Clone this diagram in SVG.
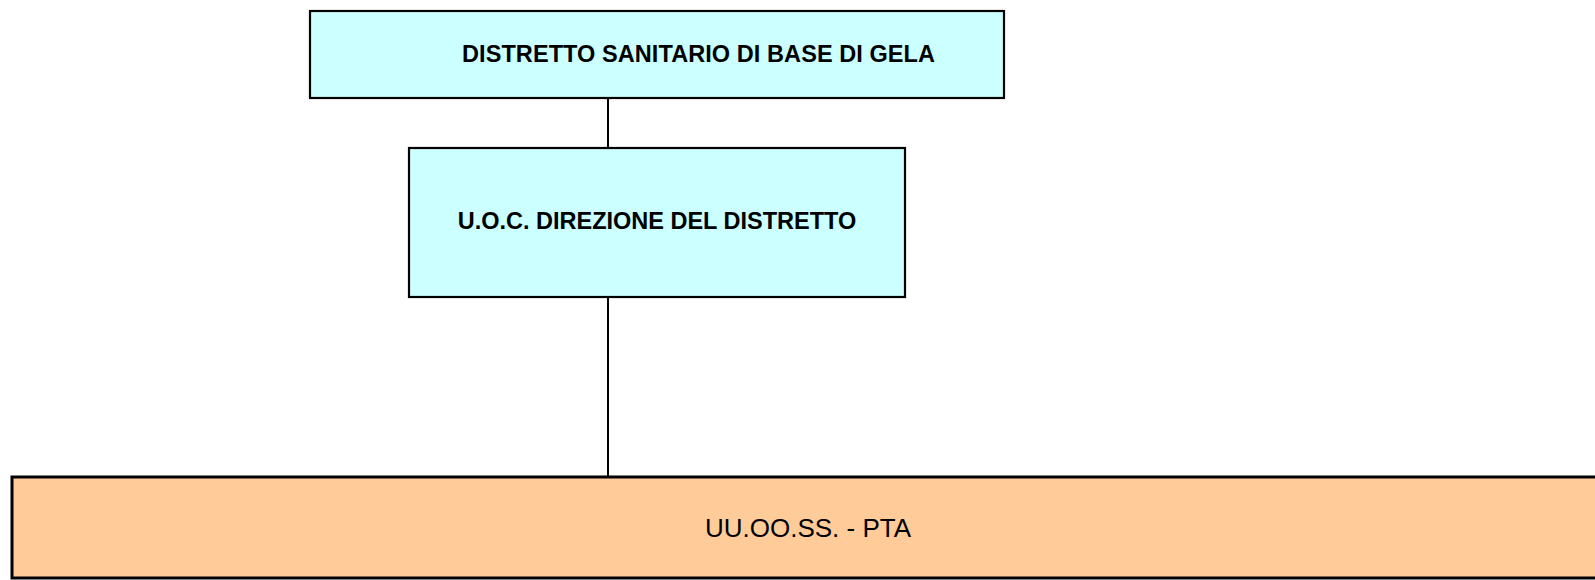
<svg xmlns="http://www.w3.org/2000/svg" width="1595" height="580" viewBox="0 0 1595 580">
<style>
.box{stroke:#000;stroke-width:2.2}
.cyan{fill:#CCFFFF}
.orange{fill:#FFCC99;stroke-width:3}
.t{font-family:"Liberation Sans",Arial,sans-serif;fill:#000}
.b{font-weight:bold;font-size:23.5px}
.r{font-size:26px}
.conn{stroke:#000;stroke-width:2;fill:none}
</style>
<rect width="1595" height="580" fill="#fff"/>
<g id="connectors">
<line class="conn" x1="608" y1="98" x2="608" y2="148"/>
<line class="conn" x1="608" y1="297" x2="608" y2="477"/>
</g>
<g id="node-distretto">
<rect class="box cyan" x="310" y="11" width="694" height="87"/>
<text class="t b" x="462" y="62" textLength="473">DISTRETTO SANITARIO DI BASE DI GELA</text>
</g>
<g id="node-uoc">
<rect class="box cyan" x="409" y="148" width="496" height="149"/>
<text class="t b" x="657" y="229" text-anchor="middle">U.O.C. DIREZIONE DEL DISTRETTO</text>
</g>
<g id="node-uuooss">
<rect class="box orange" x="12" y="477" width="1600" height="101"/>
<text class="t r" x="808" y="537" text-anchor="middle">UU.OO.SS. - PTA</text>
</g>
</svg>
